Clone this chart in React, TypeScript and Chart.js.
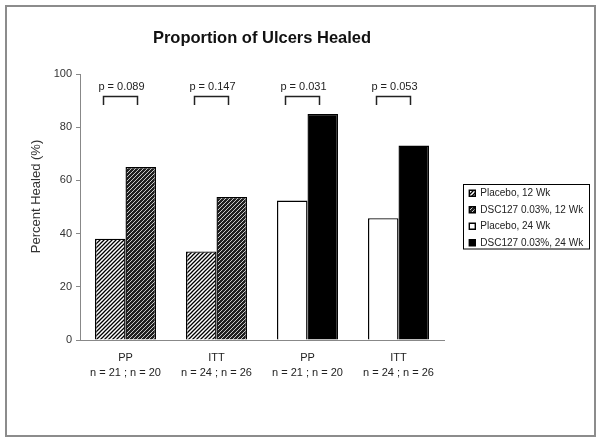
import React, { useEffect, useRef } from "react";
import { Chart, registerables } from "chart.js";

Chart.register(...registerables);

// ---------- data ----------
const categories: string[][] = [
  ["PP", "n = 21 ; n = 20"],
  ["ITT", "n = 24 ; n = 26"],
  ["PP", "n = 21 ; n = 20"],
  ["ITT", "n = 24 ; n = 26"],
];
const seriesNames = [
  "Placebo, 12 Wk",
  "DSC127 0.03%, 12 Wk",
  "Placebo, 24 Wk",
  "DSC127 0.03%, 24 Wk",
];
const placebo12 = [38.1, 33.3, null, null];
const dsc12 = [65.0, 53.8, null, null];
const placebo24 = [null, null, 52.4, 45.8];
const dsc24 = [null, null, 85.0, 73.1];
const pValueLabels = ["p = 0.089", "p = 0.147", "p = 0.031", "p = 0.053"];
const chartTitle = "Proportion of Ulcers Healed";
const yAxisTitle = "Percent Healed (%)";
const yMin = 0;
const yMax = 100;
const yStep = 20;

const FONT = "'Liberation Sans', Arial, sans-serif";

function makeHatch(bg: string, fg: string, lw: number): CanvasPattern | string {
  const c = document.createElement("canvas");
  c.width = 4;
  c.height = 4;
  const g = c.getContext("2d");
  if (!g) return bg;
  g.fillStyle = bg;
  g.fillRect(0, 0, 4, 4);
  g.strokeStyle = fg;
  g.lineWidth = lw;
  g.beginPath();
  g.moveTo(-1, 5);
  g.lineTo(5, -1);
  g.moveTo(-1, 1);
  g.lineTo(1, -1);
  g.moveTo(3, 5);
  g.lineTo(5, 3);
  g.stroke();
  return g.createPattern(c, "repeat") || bg;
}

const overlayPlugin = {
  id: "overlay",
  afterLayout(chart: any) {
    const lg = chart.legend;
    if (!lg) return;
    lg.left = 462.8;
    lg.top = 181.8;
    lg.right = lg.left + lg.width;
    lg.bottom = lg.top + lg.height;
  },
  beforeDraw(chart: any) {
    const ctx = chart.ctx;
    ctx.save();
    ctx.fillStyle = "#ffffff";
    ctx.fillRect(0, 0, chart.width, chart.height);
    ctx.strokeStyle = "#8c8c8c";
    ctx.lineWidth = 2;
    ctx.strokeRect(6, 6, 589, 430);
    ctx.restore();
  },
  afterDraw(chart: any) {
    const ctx = chart.ctx;
    const x = chart.scales.x;
    const y = chart.scales.y;
    ctx.save();
    // legend frame
    ctx.strokeStyle = "#000";
    ctx.lineWidth = 1;
    ctx.strokeRect(463.5, 184.5, 126, 64.5);
    // y-axis title
    ctx.save();
    ctx.translate(36, 196.5);
    ctx.rotate(-Math.PI / 2);
    ctx.font = `13px ${FONT}`;
    ctx.fillStyle = "#333";
    ctx.textAlign = "center";
    ctx.textBaseline = "middle";
    ctx.fillText(yAxisTitle, 0, 0);
    ctx.restore();
    // brackets and p-values
    ctx.strokeStyle = "#222";
    ctx.lineWidth = 1.5;
    ctx.fillStyle = "#222";
    ctx.font = `11px ${FONT}`;
    ctx.textAlign = "center";
    ctx.textBaseline = "middle";
    pValueLabels.forEach((lab, i) => {
      const cx = x.getPixelForValue(i);
      const yt = y.getPixelForValue(91.5);
      const yb = y.getPixelForValue(88.3);
      ctx.beginPath();
      ctx.moveTo(cx - 22, yb);
      ctx.lineTo(cx - 22, yt);
      ctx.lineTo(cx + 12, yt);
      ctx.lineTo(cx + 12, yb);
      ctx.stroke();
      ctx.fillText(lab, cx - 4, y.getPixelForValue(95.2));
    });
    ctx.restore();
  },
};

export default function App() {
  const ref = useRef<HTMLCanvasElement>(null);
  useEffect(() => {
    if (!ref.current) return;
    const lightHatch = makeHatch("#ffffff", "#000000", 1.3);
    const darkHatch = makeHatch("#202020", "#c8c8c8", 1.0);
    const fills = [lightHatch, darkHatch, "#ffffff", "#000000"];
    const series = [placebo12, dsc12, placebo24, dsc24];
    const chart = new Chart(ref.current, {
      type: "bar",
      data: {
        labels: categories,
        datasets: series.map((d, i) => ({
          label: seriesNames[i],
          data: d,
          backgroundColor: fills[i] as any,
          borderColor: "#000",
          borderWidth: 1.4,
        })),
      },
      options: {
        responsive: false,
        animation: false,
        devicePixelRatio: 1,
        events: [],
        skipNull: true,
        categoryPercentage: 0.67,
        barPercentage: 1.0,
        layout: { padding: { top: 20, left: 0, right: 157, bottom: 0 } },
        plugins: {
          title: {
            display: true,
            text: chartTitle,
            fullSize: false,
            color: "#111",
            font: { family: FONT, size: 16.5, weight: "bold" },
            padding: { top: 8.1, bottom: 26.1 },
          },
          legend: {
            display: true,
            position: "chartArea",
            align: "start",
            labels: {
              boxWidth: 6,
              boxHeight: 6,
              padding: 6.5,
              color: "#222",
              font: { family: FONT, size: 10 },
            },
          },
          tooltip: { enabled: false },
        },
        scales: {
          x: {
            grid: { display: false, drawTicks: false },
            border: { display: true, color: "#888", width: 1 },
            ticks: {
              color: "#222",
              font: { family: FONT, size: 11, lineHeight: 1.42 },
              padding: 10,
              maxRotation: 0,
              autoSkip: false,
            },
            afterFit: (s: any) => {
              s.height = 102;
            },
          },
          y: {
            min: yMin,
            max: yMax,
            grid: { drawOnChartArea: false, drawTicks: true, tickLength: 4, color: "#888" },
            border: { display: true, color: "#888", width: 1 },
            ticks: {
              stepSize: yStep,
              color: "#333",
              font: { family: FONT, size: 11 },
              padding: 4,
            },
            afterFit: (s: any) => {
              s.width = 80;
            },
          },
        },
      } as any,
      plugins: [overlayPlugin],
    });
    return () => chart.destroy();
  }, []);
  return (
    <div style={{ position: "absolute", left: 0, top: 0, width: 601, height: 442, background: "#fff" }}>
      <canvas ref={ref} width={601} height={442} style={{ display: "block" }} />
    </div>
  );
}
